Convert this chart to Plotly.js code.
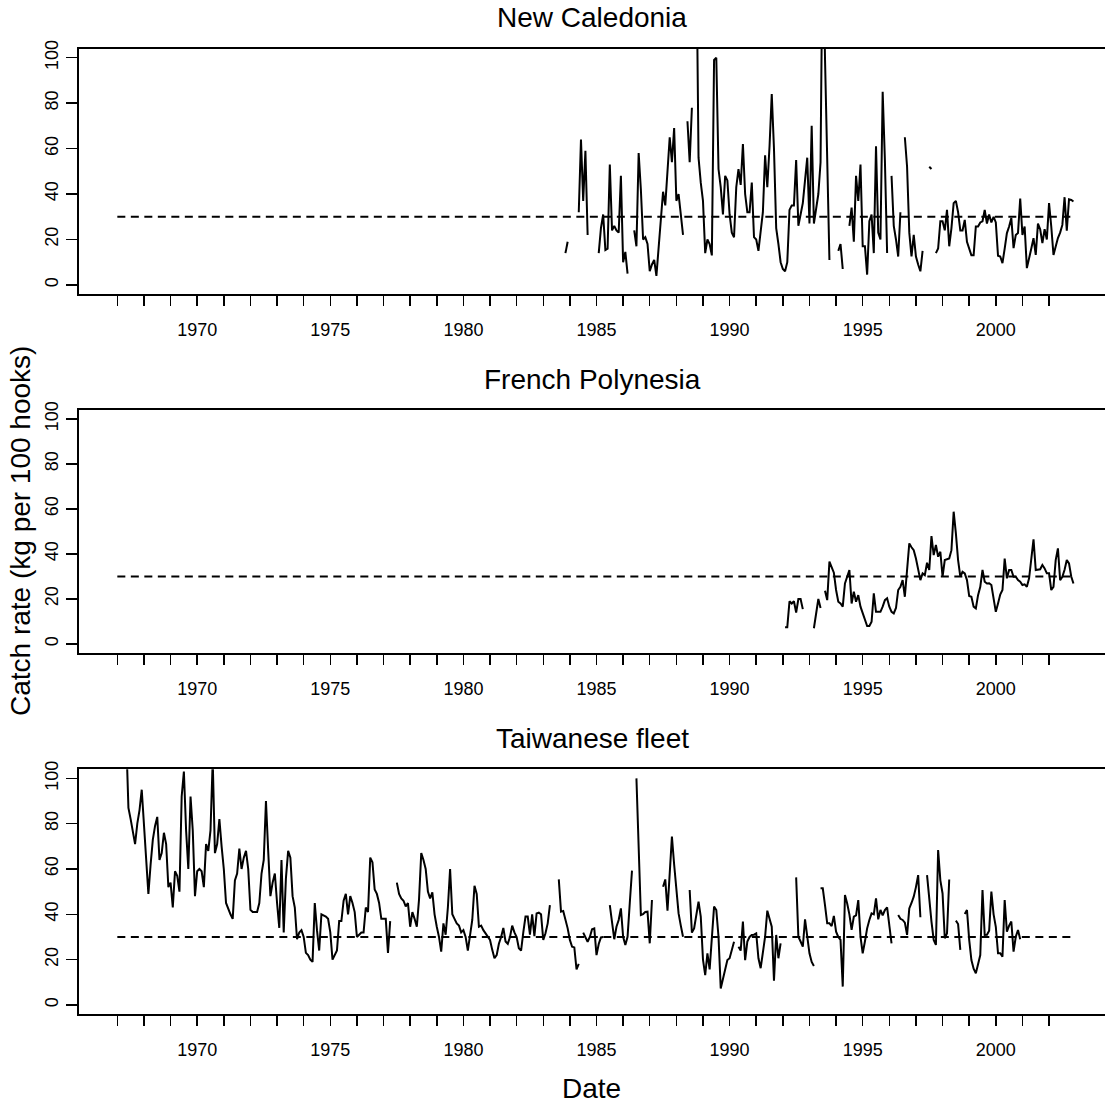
<!DOCTYPE html>
<html>
<head>
<meta charset="utf-8">
<script src="https://cdn.plot.ly/plotly-3.0.1.min.js"></script>
<style>
  html, body { margin: 0; padding: 0; background: #fff; overflow: hidden; }
  #chart { width: 1120px; height: 1112px; }
</style>
</head>
<body>
<div id="chart"></div>
<script>
// Monthly longline catch rates (kg per 100 hooks), one row per calendar year.
// null marks a month with no fishing data.
const ncStartYear = 1983;
const newCaledonia = [
  null, null, null, null, null, null, null, null, null, null, 14, 19,
  null, null, null, null, 32, 64, 37, 59, 22, null, null, null,
  null, 14, 25, 31, 15.4, 16, 53, 24, 26, 24, 23, 48,
  10, 14.5, 5, null, null, 24, 17, 58, 42, 20, 21, 18,
  6, 9, 11, 4, 17, 30, 41, 35, 48, 65, 54, 69,
  37, 40, 31, 22, null, 72, 54, 78, null, 150, 56, 45,
  37, 14, 20, 18, 13, 99, 100, 51, 43, 31, 48, 46,
  31, 23, 21, 43, 51, 44, 62, 40, 32, 32, 45, 21,
  20, 15, 24, 32, 57, 43, 61, 84, 60, 25, 18, 10,
  7, 6, 10, 33, 35, 35, 55, 26, 31, 36, 46, 56,
  27, 70, 27, 34, 40, 54, 160, 100, 55, 11, null, null,
  null, 15, 18, 7, null, null, 26, 34, 19, 48, 37, 53,
  17, 17, 4.5, 28, 31, 14, 61, 23, 20, 85, 55, 14,
  null, 48, 26, 20, 12.5, 32, null, 65, 52, 23, 12.5, 22,
  12.5, 9, 6, 15, null, null, 52, 51, null, 14, 16, 28,
  28, 24, 33, 17, 25, 36, 37, 32, 24, 24, 28.6, 19,
  16, 13, 13, 25.7, 25.7, 27.5, 28, 33, 27, 31, 27.5, 30,
  27.5, 12.8, 12.5, 9.6, 16, 22.8, 25.7, 29.4, 16.2, 22, 22.8, 38,
  22, 25.7, 7.4, 12.5, 16, 20.6, 13.2, 27, 24.5, 18.4, 24.5, 20,
  36, 25.7, 13.2, 16.9, 20.6, 23, 26.4, 38.6, 23.9, 37.7, 37.4, 36.7
];

const fpStartYear = 1992;
const frenchPolynesia = [
  null, 7.5, 7.5, 19, 18, 19, 14, 20, 20, 15.5, null, null,
  null, null, 7, 13, 20, 16, null, 23.7, 19.5, 36.6, 34.3, 31.7,
  24, 18.8, 18, 16.6, 26.9, 29.9, 32.9, 18, 23.2, 18.8, 21.7, 16.6,
  13.6, 11.4, 8, 8, 9.9, 22.5, 14.3, 14.3, 14.3, 16.6, 19.5, 20.3,
  16.6, 14.3, 13.6, 16, 24, 25.4, 28.4, 21, 34.3, 44.7, 43, 41.7,
  38, 32.9, 28.4, 31.4, 30.6, 36.1, 32.9, 48, 39.5, 44, 38.8, 41,
  29.9, 37.3, 37.5, 38, 41.7, 58.8, 49.2, 37.3, 29.9, 32.1, 31.4, 28.4,
  21.3, 21, 16.6, 15.8, 21.7, 25.4, 32.9, 27.7, 26.9, 27, 26.2, 21,
  14.3, 18, 22, 24, 38, 29.2, 32.9, 32.9, 29.9, 29.9, 28.4, 27.7,
  26.2, 26.5, 25.4, 29.2, 38, 46.5, 32.9, 33.2, 33.2, 35.1, 33.6, 31.4,
  31.4, 24, 25.4, 37.3, 42.5, 28.4, 29.9, 33, 37.3, 35.8, 30, 26.9
];

const twStartYear = 1967;
const taiwaneseFleet = [
  null, null, null, null, 118, 87, 82, 77, 71, 80, 86, 95,
  80, 65, 49, 62, 73, 79, 83, 64, 67, 76, 71, 52,
  54, 43, 59, 57, 50, 92, 103, 77, 60, 92, 77, 48,
  59, 60, 59, 52, 71, 68, 77, 108, 67, 71, 82, 70,
  60, 45, 42, 40, 38, 55, 58, 69, 60, 65, 68, 60,
  42, 41, 41, 41, 45, 58, 64, 90, 68, 48, 54, 58,
  45, 34, 64, 32, 56, 68, 65, 48, 43, 29, 32, 33,
  30, 23, 22, 20, 19, 45, 33, 24, 40, 39.5, 39, 38,
  32, 20, 22, 24, 37, 37, 46, 49, 40, 48, 45, 41,
  30, 31, 32, 32, 43, 41, 65, 63, 51, 49, 45, 38,
  38, 38, 23, 37, null, null, 54, 49, 47, 46, 43.5, 45,
  34.5, 41, 38, 34.5, 46.6, 67, 64, 60, 50, 47, 49.7, 40,
  34.5, 30, 23.5, 36, 31, 43, 60, 40, 38, 36, 35, 32,
  33, 30, 24, 30, 37.5, 52.6, 49, 34.5, 35, 33, 31.6, 30,
  28.7, 24.3, 20.6, 22, 27, 30, 34, 28, 27, 30, 35, 32,
  30, 25, 24, 32, 39, 39, 31, 40, 30.4, 40.4, 40.7, 40,
  28.7, 31.6, 36, 44, null, null, null, 55.4, 41.2, 41.5, 38.2, 33.8,
  28.7, 25.7, 25.4, 15.7, 18.1, null, 31.9, 30.1, 27.9, 30, 33.4, 33.8,
  22, 26.9, 29.8, 30, null, null, 44, 35, 29, 34.5, 37.5, 42.6,
  30.1, 26.5, 30.1, 45, 59.3, null, 100, 64, 39.7, 40.1, 41, 41.2,
  27.2, 46.3, null, null, null, null, 52.2, 55.4, 41.6, 60, 74.3, 62,
  49.2, 40.4, 35, 30.1, null, null, 50.7, 31.9, 33.8, 40, 45.6, 39,
  20, 13.2, 22.8, 15.7, 30, 43.4, 41.9, 30.1, 7.3, 12, 15.4, 19.8,
  20.6, 24, 27.9, null, 25.7, 24, 36.8, 19.8, 28, 30, 30.9, 31,
  31.6, 20.6, 16.2, 22.8, 30.1, 41.6, 38, 34.5, 10.7, 30.9, 20.6, 27.2,
  null, null, null, null, null, null, 56.3, 30.1, 28, 25.7, 37.8, 30,
  22.8, 19, 17.2, null, null, 51.5, 51.5, 44.1, 36, 36, 34.8, 39.3,
  32.3, 30, 28.7, 8.1, 48.5, 44.8, 40, 33.1, 39, 39.5, 46.3, 30.1,
  22.8, 28, 33.8, 37.5, 40.4, 40, 47, 37.8, 41.9, 39.5, 41.9, 43.1,
  35, 27.2, null, null, 39.7, 38, 37.5, 36.3, 30.9, 42.6, 45, 47.8,
  52, 57.3, 38.7, null, null, 57.3, 45, 36.8, 28.7, 26.5, 68.4, 55,
  49.2, 29.4, 31.6, 55.4, null, null, 37.2, 35.7, 24.3, null, 40.1, 41.9,
  28.7, 19.8, 16, 14, 18, 22, 50.7, 30.9, 31, 32.8, 50, 40,
  34.5, 22.8, 22.8, 21.3, 46.3, 32.3, 35, 36.8, 23.5, 30.1, 33.1, 29
];

// Reference catch rate drawn as a dashed line across the whole period
const referenceRate = 30;
const referenceSpan = [1967, 2003];

const panelTitles = ['New Caledonia', 'French Polynesia', 'Taiwanese fleet'];
const yTickValues = [0, 20, 40, 60, 80, 100];
const yearTickValues = [1967, 1968, 1969, 1970, 1971, 1972, 1973, 1974, 1975, 1976, 1977, 1978,
  1979, 1980, 1981, 1982, 1983, 1984, 1985, 1986, 1987, 1988, 1989, 1990,
  1991, 1992, 1993, 1994, 1995, 1996, 1997, 1998, 1999, 2000, 2001, 2002];
const yearTickLabels = ['', '', '', '1970', '', '', '', '', '1975', '', '', '',
  '', '1980', '', '', '', '', '1985', '', '', '', '', '1990',
  '', '', '', '', '1995', '', '', '', '', '2000', '', ''];

// ---- layout geometry (pixels) ----
const W = 1120, H = 1112, ML = 79, MR = 6;
const PW = W - ML - MR;
const panelPx = [[48.6, 294], [410, 653], [769.3, 1014]];   // [top, bottom] of each panel box
const px2x = p => (p - ML) / PW;
const px2y = p => 1 - p / H;

// monthly time axis in decimal years
const monthAxis = (startYear, values) => values.map((_, i) => startYear + i / 12);

const series = [
  { start: ncStartYear, values: newCaledonia },
  { start: fpStartYear, values: frenchPolynesia },
  { start: twStartYear, values: taiwaneseFleet }
];

const FONT = 'Liberation Sans, Arial, Helvetica, sans-serif';
const traces = [];
const layout = {
  width: W, height: H,
  margin: { l: ML, r: MR, t: 0, b: 0 },
  paper_bgcolor: '#fff', plot_bgcolor: '#fff',
  showlegend: false,
  font: { family: FONT, color: '#000' },
  annotations: []
};

series.forEach((s, k) => {
  const n = k === 0 ? '' : String(k + 1);
  traces.push({
    x: monthAxis(s.start, s.values), y: s.values,
    xaxis: 'x' + n, yaxis: 'y' + n,
    type: 'scatter', mode: 'lines', connectgaps: false,
    line: { color: '#000', width: 2 },
    hoverinfo: 'skip'
  });
  traces.push({
    x: referenceSpan, y: [referenceRate, referenceRate],
    xaxis: 'x' + n, yaxis: 'y' + n,
    type: 'scatter', mode: 'lines',
    line: { color: '#000', width: 2, dash: '8px,5.5px' },
    hoverinfo: 'skip'
  });

  const [top, bottom] = panelPx[k];
  layout['xaxis' + n] = {
    domain: [0, 1], anchor: 'y' + n,
    range: [1965.56, 2004.44],
    tickmode: 'array', tickvals: yearTickValues, ticktext: yearTickLabels,
    ticks: 'outside', ticklen: 10, tickwidth: 1.5, tickcolor: '#000',
    ticklabelstandoff: 8,
    tickfont: { size: 18, family: FONT, color: '#000' },
    showline: true, mirror: true, linewidth: 2, linecolor: '#000',
    showgrid: false, zeroline: false, fixedrange: true
  };
  layout['yaxis' + n] = {
    domain: [px2y(bottom), px2y(top)], anchor: 'x' + n,
    range: [-4, 104],
    tickmode: 'array', tickvals: yTickValues,
    ticks: 'outside', ticklen: 11, tickwidth: 1.5, tickcolor: '#000',
    tickangle: -90, ticklabelstandoff: 1,
    tickfont: { size: 18, family: FONT, color: '#000' },
    showline: true, mirror: true, linewidth: 2, linecolor: '#000',
    showgrid: false, zeroline: false, fixedrange: true
  };
  layout.annotations.push({
    text: panelTitles[k], xref: 'paper', yref: 'paper',
    x: px2x(592), y: px2y(top - 31), xanchor: 'center', yanchor: 'middle',
    showarrow: false, font: { size: 28, family: FONT, color: '#000' }
  });
});

layout.annotations.push({
  text: 'Catch rate (kg per 100 hooks)', xref: 'paper', yref: 'paper',
  x: px2x(20), y: px2y(531), xanchor: 'center', yanchor: 'middle',
  textangle: -90, showarrow: false, font: { size: 28, family: FONT, color: '#000' }
});
layout.annotations.push({
  text: 'Date', xref: 'paper', yref: 'paper',
  x: px2x(591), y: px2y(1088), xanchor: 'center', yanchor: 'middle',
  showarrow: false, font: { size: 28, family: FONT, color: '#000' }
});

Plotly.newPlot('chart', traces, layout, { displayModeBar: false, staticPlot: true });
</script>
</body>
</html>
